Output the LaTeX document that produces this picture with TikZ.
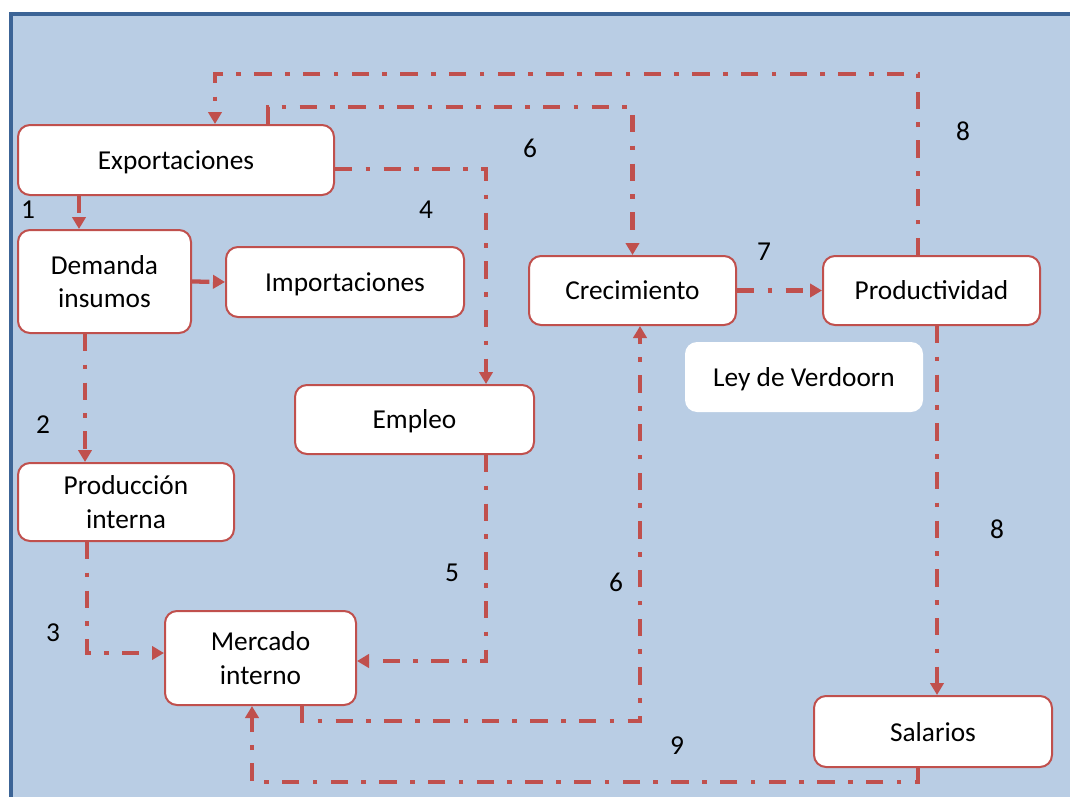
\documentclass[tikz,border=0pt]{standalone}
\usepackage{fontspec}
\setmainfont{Carlito}
\usetikzlibrary{arrows.meta}
\definecolor{bgblue}{HTML}{B9CDE4}
\definecolor{frameblue}{HTML}{3C6496}
\definecolor{redline}{HTML}{C0504D}
\tikzset{
  box/.style={draw=redline, line width=1.5pt, fill=white, rounded corners=9pt, align=center, inner sep=2pt, text depth=0pt},
  plainbox/.style={fill=white, rounded corners=9pt, align=center, inner sep=2pt, text depth=0pt},
  conn/.style={draw=redline, line width=3.2pt, dash pattern=on 13pt off 10pt on 3.5pt off 10pt,
    -{Triangle[length=9pt,width=10pt]}},
  lbl/.style={inner sep=0pt}
}
\newcommand\bx[6][box]{\node[#1, minimum width=#4*0.75pt, minimum height=#5*0.75pt] (#2) at (#3) {#6};}
\begin{document}
\begin{tikzpicture}[x=0.75pt,y=-0.75pt,font=\fontsize{20.5}{25}\selectfont]
\useasboundingbox (0,0) rectangle (1070,796);
\clip (0,0) rectangle (1070,796);
\draw[fill=bgblue, draw=frameblue, line width=2.5pt] (11,14) rectangle (1090,820);

\bx{expo}{176,160}{316}{70}{Exportaciones}
\bx{dem}{104.5,281.5}{173}{103}{Demanda\\insumos}
\bx{imp}{345,282}{238}{70}{Importaciones}
\bx{crec}{632.5,290.5}{207}{69}{Crecimiento}
\bx{produ}{931.5,290.5}{217}{69}{Productividad}
\bx[plainbox]{ley}{804,377}{238}{70}{Ley de Verdoorn}
\bx{emp}{414.5,419.5}{239}{69}{Empleo}
\bx{prod}{126,502}{216}{78}{Producción\\interna}
\bx{merc}{260.5,658}{191}{94}{Mercado\\interno}
\bx{sal}{933,731.5}{238}{71}{Salarios}

% connectors
\draw[conn] (79,0 |- expo.south) -- (79,0 |- dem.north);
\draw[conn] (dem.east) -- (imp.west);
\draw[conn] (85,0 |- dem.south) -- (85,0 |- prod.north);
\draw[conn] (87,0 |- prod.south) |- ([yshift=3.75pt]merc.west);
\draw[conn] ([yshift=-6.75pt]expo.east) -| (486,0 |- emp.north);
\draw[conn] (486,0 |- emp.south) |- ([yshift=-2.25pt]merc.east);
\draw[conn] (268,0 |- expo.north) -- (268,107) -| (crec.north);
\draw[conn] (302,0 |- merc.south) -- (302,721) -| (640,0 |- crec.south);
\draw[conn] (crec.east) -- (produ.west);
\draw[conn] (918,0 |- produ.north) -- (918,74) -| (215,0 |- expo.north);
\draw[conn] (937,0 |- produ.south) -- (937,0 |- sal.north);
\draw[conn] (918,0 |- sal.south) -- (918,782) -| (252,0 |- merc.south);

% labels
\node[lbl] (l1) at (28,210) {1};
\node[lbl] (l2) at (43,425) {2};
\node[lbl] (l3) at (53,633) {3};
\node[lbl] (l4) at (426,210) {4};
\node[lbl] (l5) at (452,573) {5};
\node[lbl] (l6a) at (530,148) {6};
\node[lbl] (l6b) at (616,582) {6};
\node[lbl] (l7) at (764,252) {7};
\node[lbl] (l8a) at (963,131) {8};
\node[lbl] (l8b) at (997,529) {8};
\node[lbl] (l9) at (677,746) {9};
\end{tikzpicture}
\end{document}
